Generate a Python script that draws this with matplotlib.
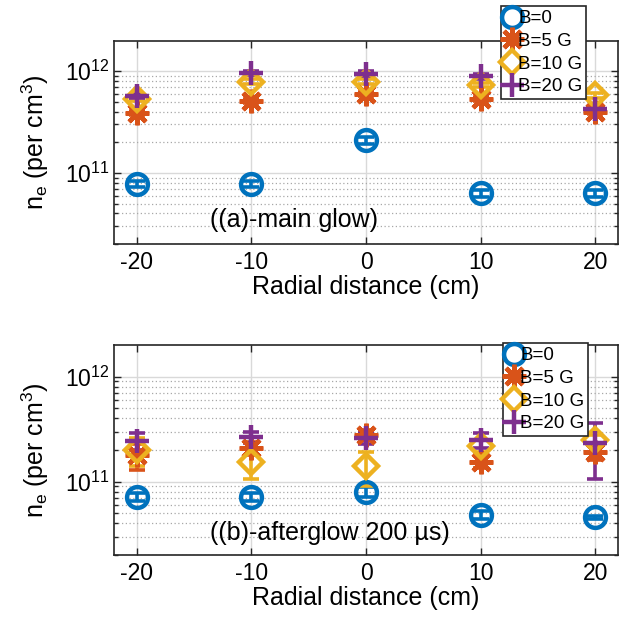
import matplotlib.pyplot as plt
from matplotlib.lines import Line2D
from matplotlib.ticker import FixedLocator, NullFormatter

plt.rcParams['font.family'] = ['Liberation Sans', 'DejaVu Sans']
plt.rcParams['mathtext.fontset'] = 'custom'
plt.rcParams['mathtext.rm'] = 'Liberation Sans'
plt.rcParams['mathtext.it'] = 'Liberation Sans:italic'

# radial probe positions (cm)
radial = [-20, -10, 0, 10, 20]
field_labels = ['B=0', 'B=5 G', 'B=10 G', 'B=20 G']

# (a) main glow, electron density (per cm^3)
main_b0 = [7.8e10, 7.8e10, 2.1e11, 6.3e10, 6.3e10]
main_b5 = [3.9e11, 5.1e11, 6.0e11, 5.3e11, 4.0e11]
main_b10 = [5.3e11, 7.9e11, 7.9e11, 7.3e11, 5.8e11]
main_b20 = [5.7e11, 9.6e11, 9.5e11, 8.9e11, 4.3e11]
main_b0_err = [6e9, 6e9, 1.6e10, 5e9, 5e9]
main_b5_err = [2e10, 2.5e10, 3e10, 2.5e10, 2e10]
main_b10_err = [2.5e10, 4e10, 4e10, 3.5e10, 3e10]
main_b20_err = [3e10, 5e10, 5e10, 4.5e10, 2e10]

# (b) afterglow at 200 us
after_b0 = [7.2e10, 7.2e10, 8.0e10, 4.8e10, 4.6e10]
after_b5 = [1.8e11, 2.1e11, 2.8e11, 1.55e11, 1.9e11]
after_b10 = [2.0e11, 1.55e11, 1.4e11, 2.2e11, 2.5e11]
after_b20 = [2.45e11, 2.65e11, 2.6e11, 2.5e11, 2.35e11]
after_b0_err = [6e9, 6e9, 8e9, 4e9, 1.5e9]
after_b5_err = [5e10, 3e10, 3e10, 2e10, 3e10]
after_b10_err = [6e10, 5e10, 5e10, 3e10, 3e10]
after_b20_err = [4.5e10, 3e10, 3e10, 4e10, 1.3e11]

colors = ['#0072BD', '#D95319', '#EDB120', '#7E2F8E']
markers = ['o', (8, 2, 0), 'D', '+']
msizes = [15, 17, 12, 17]
mew = 3.2

fig = plt.figure(figsize=(6.22, 6.23), dpi=100)
ax_a = fig.add_axes([0.1833, 0.6083, 0.8103, 0.3265])
ax_b = fig.add_axes([0.1833, 0.1091, 0.8103, 0.3371])

panels = [
    (ax_a, [main_b0, main_b5, main_b10, main_b20],
     [main_b0_err, main_b5_err, main_b10_err, main_b20_err],
     '((a)-main glow)', 0.086, (0.806, 0.990)),
    (ax_b, [after_b0, after_b5, after_b10, after_b20],
     [after_b0_err, after_b5_err, after_b10_err, after_b20_err],
     '((b)-afterglow 200 µs)', 0.071, (0.809, 0.449)),
]

for ax, series, errs, tag, tag_y, leg_pos in panels:
    handles = []
    for vals, err, c, m, ms in zip(series, errs, colors, markers, msizes):
        face = 'none' if m in ('o', 'D') else c
        ax.errorbar(radial, vals, yerr=err, fmt='none', ecolor=c,
                    elinewidth=2.6, capsize=6, capthick=2.6, zorder=3)
        ax.plot(radial, vals, linestyle='none', marker=m, ms=ms,
                mfc=face, mec=c, mew=mew, zorder=4)
        handles.append(Line2D([], [], linestyle='none', marker=m, ms=ms,
                              mfc=face, mec=c, mew=mew))

    ax.set_yscale('log')
    ax.set_xlim(-22, 22)
    ax.set_ylim(2e10, 2e12)
    ax.set_xticks(radial)
    ax.set_xticklabels(['-20', '-10', '0', '10', '20'])
    ax.yaxis.set_major_locator(FixedLocator([1e11, 1e12]))
    minors = [k * 10.0**d for d in (10, 11) for k in range(2, 10)]
    ax.yaxis.set_minor_locator(FixedLocator(minors))
    ax.yaxis.set_minor_formatter(NullFormatter())

    ax.grid(True, which='major', color='#d9d9d9', linewidth=1.0, linestyle='-', zorder=0)
    ax.grid(True, which='minor', axis='y', color='#a8a8a8', linewidth=0.9,
            linestyle=(0, (1, 2)), zorder=0)
    ax.set_axisbelow(True)

    ax.tick_params(which='both', direction='in', top=True, right=True,
                   labelsize=16.5, width=1.0, color='#262626')
    ax.tick_params(which='major', length=5, pad=5)
    ax.tick_params(which='minor', length=3)
    ax.tick_params(axis='y', which='major', pad=3)
    for sp in ax.spines.values():
        sp.set_linewidth(1.2)
        sp.set_color('#262626')

    ax.set_xlabel('Radial distance (cm)', fontsize=18, labelpad=1)
    ax.set_ylabel('n$_\\mathregular{e}$ (per cm$^\\mathregular{3}$)', fontsize=18)
    ax.yaxis.set_label_coords(-0.125, 0.5)

    ax.text(0.19, tag_y, tag, transform=ax.transAxes, fontsize=18, va='baseline')

    leg = fig.legend(handles, field_labels, loc='upper left',
                     bbox_to_anchor=leg_pos, bbox_transform=fig.transFigure,
                     fontsize=13.5, frameon=True, fancybox=False, framealpha=1,
                     edgecolor='#262626', borderpad=0.2, labelspacing=0.3,
                     handlelength=0.7, handletextpad=0.0, borderaxespad=0)
    leg.get_frame().set_linewidth(1.2)

fig.savefig('out.png', dpi=100)
